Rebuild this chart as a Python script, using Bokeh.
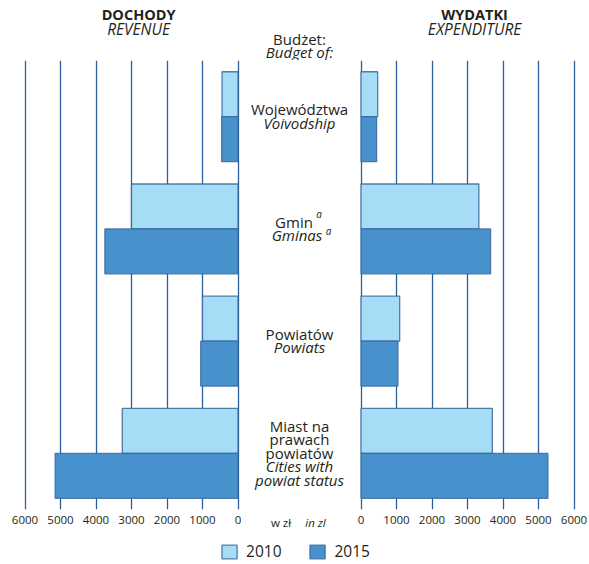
from bokeh.plotting import figure
from bokeh.models import Range1d, FixedTicker, ColumnDataSource, Legend, LegendItem
from bokeh.layouts import row, column
from bokeh.embed import file_html
from bokeh.resources import INLINE
from bokeh.core.properties import value, field
from bokeh.transform import dodge

# ---------------- data ----------------
categories_pl = ["Województwa", "Gmin", "Powiatów", "Miast na prawach powiatów"]
categories_en = ["Voivodship", "Gminas", "Powiats", "Cities with powiat status"]
revenue_2010 = [450, 3000, 1000, 3260]
revenue_2015 = [460, 3750, 1050, 5150]
expenditure_2010 = [470, 3320, 1090, 3700]
expenditure_2015 = [440, 3650, 1040, 5265]
years = ["2010", "2015"]
tick_values = [0, 1000, 2000, 3000, 4000, 5000, 6000]

label_lines = [
    [("Województwa", "normal"), ("Voivodship", "italic")],
    [("Gmin", "normal"), ("Gminas", "italic")],
    [("Powiatów", "normal"), ("Powiats", "italic")],
    [("Miast na", "normal"), ("prawach", "normal"), ("powiatów", "normal"),
     ("Cities with", "italic"), ("powiat status", "italic")],
]

# ---------------- style / layout ----------------
FONT = "Open Sans"
TXT = "#231f20"
C2010 = "#a6dcf6"
C2015 = "#4792cd"
OUTLINE = "#3a679b"
GRID = "#2a5e9c"

PX_PER_UNIT = 0.0355
PAD_PX = 3.5
PAD = PAD_PX / PX_PER_UNIT
FRAME_W = 220
FRAME_H = 449
HEAD_H = 60
BOTTOM = 23
ROW_H = FRAME_H + BOTTOM
LEFT_BORDER = 21
RIGHT_BORDER = 12
MID_W = 116
LEG_H = 31
TOTAL_W = LEFT_BORDER + FRAME_W + MID_W + FRAME_W + RIGHT_BORDER
U = 4 / FRAME_H  # data units per pixel vertically

y_range = Range1d(3.5, -0.5)
idx = list(range(len(categories_pl)))


def panel(x_range, v2010, v2015, bl, br):
    p = figure(width=bl + FRAME_W + br, height=ROW_H, x_range=x_range, y_range=y_range,
               output_backend="svg", toolbar_location=None, y_axis_location=None,
               min_border_left=bl, min_border_right=br, min_border_top=0,
               min_border_bottom=BOTTOM, frame_align=False)
    p.outline_line_color = None
    p.ygrid.visible = False
    p.xaxis.ticker = FixedTicker(ticks=tick_values)
    p.xaxis.axis_line_color = None
    p.xaxis.major_tick_line_color = None
    p.xaxis.minor_tick_line_color = None
    p.xaxis.major_label_standoff = 0
    p.xaxis.major_label_text_font = FONT
    p.xaxis.major_label_text_font_size = "11.5px"
    p.xaxis.major_label_text_color = TXT
    p.xgrid.grid_line_color = GRID
    p.xgrid.grid_line_width = 1.3
    src = ColumnDataSource(dict(idx=idx, v2010=v2010, v2015=v2015))
    p.hbar(y=dodge("idx", -0.2, range=y_range), left=0, right="v2010", height=0.4,
           fill_color=C2010, line_color=OUTLINE, line_width=1.3, line_alpha=0.85, source=src)
    p.hbar(y=dodge("idx", 0.2, range=y_range), left=0, right="v2015", height=0.4,
           fill_color=C2015, line_color=OUTLINE, line_width=1.3, line_alpha=0.85, source=src)
    return p, src


left, left_src = panel(Range1d(6000 + PAD, -PAD), revenue_2010, revenue_2015, LEFT_BORDER, 0)
right, _ = panel(Range1d(-PAD, 6000 + PAD), expenditure_2010, expenditure_2015, 0, RIGHT_BORDER)

# ---------------- header strip ----------------
top = figure(width=TOTAL_W, height=HEAD_H, x_range=Range1d(0, TOTAL_W), y_range=Range1d(HEAD_H, 0),
             output_backend="svg", toolbar_location=None,
             x_axis_location=None, y_axis_location=None, min_border=0, frame_align=False)
top.outline_line_color = None
top.grid.visible = False
left_head_x = LEFT_BORDER + (6000 + PAD - 2800) * PX_PER_UNIT
right_head_x = LEFT_BORDER + FRAME_W + MID_W + (3200 + PAD) * PX_PER_UNIT
mid_x = LEFT_BORDER + FRAME_W + MID_W / 2
head = ColumnDataSource(dict(
    x=[left_head_x, right_head_x],
    y=[13.5, 13.5],
    text=["DOCHODY", "WYDATKI"]))
top.text(x="x", y="y", text="text", source=head, text_font=value(FONT),
         text_font_size="14.5px", text_font_style="bold", text_color=TXT,
         text_align="center", text_baseline="middle")
head2 = ColumnDataSource(dict(
    x=[left_head_x, right_head_x],
    y=[28, 28],
    text=["REVENUE", "EXPENDITURE"]))
top.text(x="x", y="y", text="text", source=head2, text_font=value(FONT),
         text_font_size="15.5px", text_font_style="italic", text_color=TXT,
         text_align="center", text_baseline="middle")
head3 = ColumnDataSource(dict(x=[mid_x, mid_x], y=[38, 51], text=["Budżet:", "Budget of:"],
                              style=["normal", "italic"]))
top.text(x="x", y="y", text="text", source=head3, text_font=value(FONT),
         text_font_size="15px", text_font_style=field("style"), text_color=TXT,
         text_align="center", text_baseline="middle")

# ---------------- middle labels ----------------
mid = figure(width=MID_W, height=ROW_H, x_range=Range1d(0, MID_W),
             y_range=Range1d(3.5 + BOTTOM * U, -0.5),
             output_backend="svg", toolbar_location=None,
             x_axis_location=None, y_axis_location=None, min_border=0, frame_align=False)
mid.outline_line_color = None
mid.grid.visible = False

LINE = 13.6
cx = MID_W / 2
xs, ys, texts, styles = [], [], [], []
for i, lines in enumerate(label_lines):
    n = len(lines)
    for j, (t, s) in enumerate(lines):
        dx = 0
        if t == "Gmin":
            dx = -5.5
        elif t == "Gminas":
            dx = -2.5
        xs.append(cx + dx)
        ys.append(i + ((j - (n - 1) / 2) * LINE - 0.5) * U)
        texts.append(t)
        styles.append(s)

lab = ColumnDataSource(dict(x=xs, y=ys, text=texts, style=styles))
mid.text(x="x", y="y", text="text", source=lab, text_font=value(FONT),
         text_font_size="15px", text_font_style=field("style"), text_color=TXT,
         text_align="center", text_baseline="middle")

sup = ColumnDataSource(dict(x=[cx + 19.5, cx + 29], y=[1 - 14.5 * U, 1 + 2 * U], text=["a", "a"]))
mid.text(x="x", y="y", text="text", source=sup, text_font=value(FONT),
         text_font_size="10px", text_font_style="italic", text_color=TXT,
         text_align="center", text_baseline="middle")

unit = ColumnDataSource(dict(x=[cx - 18.5, cx + 16], y=[3.5 + 13 * U, 3.5 + 13 * U],
                             text=["w zł", "in zl"], style=["normal", "italic"]))
mid.text(x="x", y="y", text="text", source=unit, text_font=value(FONT),
         text_font_size="11.5px", text_font_style=field("style"), text_color=TXT,
         text_align="center", text_baseline="middle")

# ---------------- legend ----------------
lg = figure(width=TOTAL_W, height=LEG_H, x_range=Range1d(0, 1), y_range=Range1d(0, 1),
            output_backend="svg", toolbar_location=None,
            x_axis_location=None, y_axis_location=None, min_border=0, frame_align=False)
lg.outline_line_color = None
lg.grid.visible = False
# hidden renderers that only provide the legend swatches
r1 = lg.hbar(y="idx", left=0, right="v2010", height=0.4, fill_color=C2010, line_color=OUTLINE,
             line_width=1.3, line_alpha=0.85, source=left_src, visible=False)
r2 = lg.hbar(y="idx", left=0, right="v2015", height=0.4, fill_color=C2015, line_color=OUTLINE,
             line_width=1.3, line_alpha=0.85, source=left_src, visible=False)
legend = Legend(items=[LegendItem(label=years[0], renderers=[r1]),
                       LegendItem(label=years[1], renderers=[r2])],
                orientation="horizontal", location="bottom_center", margin=1, padding=0,
                spacing=26, label_standoff=8, glyph_width=19, glyph_height=17,
                label_text_font=FONT, label_text_font_size="15.5px", label_text_color=TXT,
                border_line_color=None, background_fill_alpha=0,
                inactive_fill_alpha=0, click_policy="none")
lg.add_layout(legend, "center")

layout = column(top, row(left, mid, right), lg)
open("out.html", "w").write(file_html(layout, INLINE))
